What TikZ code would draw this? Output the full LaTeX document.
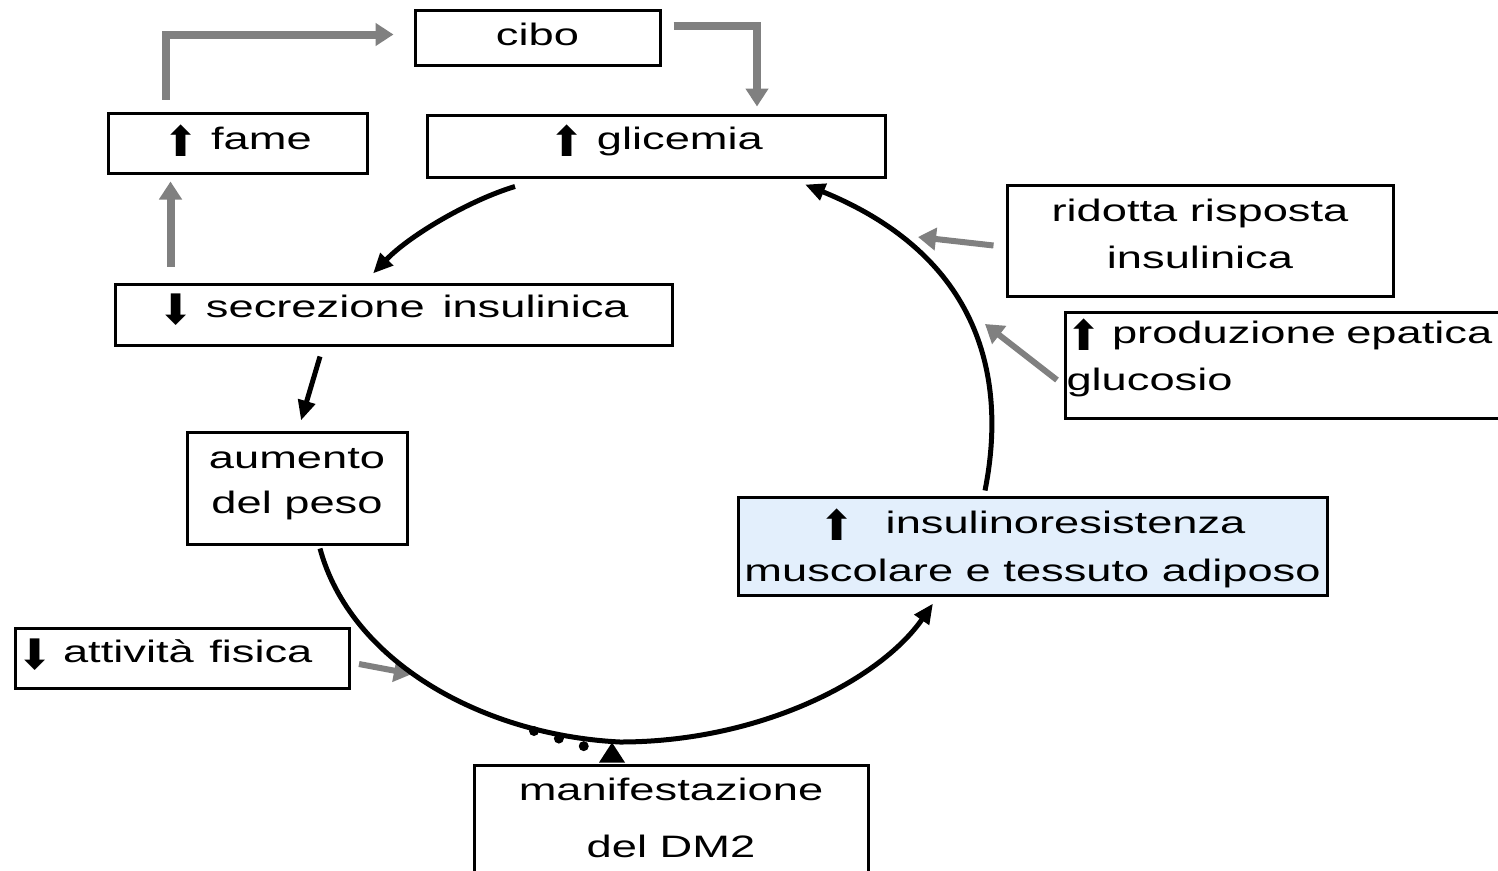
\documentclass[tikz,border=0pt]{standalone}
\usepackage{fontspec}
\setmainfont{Liberation Sans}[FakeStretch=1.46]
\newfontfamily\arrfont{DejaVu Sans}
\usetikzlibrary{arrows.meta}
\definecolor{gr}{HTML}{808080}
\definecolor{lb}{HTML}{E3EFFC}
\newcommand\myup{\raisebox{-7pt}{\fontsize{42}{42}\arrfont ⬆}}
\newcommand\mydown{\raisebox{-7pt}{\fontsize{42}{42}\arrfont ⬇}}
\begin{document}
\begin{tikzpicture}[x=1pt,y=-1pt,
  box/.style={draw=black, line width=3pt, inner sep=2pt, align=center,
    font=\fontsize{31}{47}\selectfont},
  garrow/.style={draw=gr, line width=8pt, -{Triangle[length=18pt,width=22pt]}},
  barrow/.style={draw=black, line width=5pt, -{Triangle[length=20pt,width=17pt]}},
]
\useasboundingbox (0,0) rectangle (1498,870);
\fill[white] (0,0) rectangle (1498,870);

\node[box, minimum width=245pt, minimum height=55pt, text height=22pt, text depth=6pt] (cibo) at (537.5,37.5) {cibo};
\node[box, minimum width=259pt, minimum height=60pt, text height=22pt, text depth=10pt] (fame) at (237.5,143) {\myup\ fame};
\node[box, minimum width=458pt, minimum height=62pt, text height=22pt, text depth=16pt] (gli) at (656,146) {\myup\ glicemia};
\node[box, minimum width=557pt, minimum height=61pt, text height=22pt, text depth=16pt] (sec) at (393.5,314.5) {\mydown\ secrezione\, insulinica};
\node[box, minimum width=220pt, minimum height=112pt, text height=70pt, text depth=20pt] (peso) at (297,488) {aumento\\[-2pt]del peso};
\node[box, minimum width=386pt, minimum height=111pt, text height=73pt, text depth=18pt] (rid) at (1200,240.5) {ridotta risposta\\insulinica};
\node[box, anchor=west, text width=450pt, align=left, minimum height=106pt, inner sep=1pt, text height=22pt, text depth=66pt] (prod) at (1064,365) {\myup\ produzione epatica\\glucosio};
\node[box, fill=lb, minimum width=589pt, minimum height=98pt, text height=82pt, text depth=12pt] (ins) at (1032.5,546) {\myup\quad insulinoresistenza\\[1pt]muscolare e tessuto adiposo};
\node[box, anchor=west, text width=330pt, align=left, minimum height=60pt, inner sep=2pt, text height=22pt, text depth=14pt] (att) at (14,658) {\mydown\ attività\, fisica};
\node[box, minimum width=394pt, minimum height=104pt, text height=90pt, text depth=14pt] (dm2) at (671,819) {manifestazione\\[10pt]del DM2};

% grey arrows
\draw[garrow] ([xshift=59pt,yshift=12pt]fame.north west) |- ([xshift=-20pt,yshift=3pt]cibo.west);
\draw[garrow] ([xshift=12pt,yshift=12pt]cibo.east) -| ([xshift=101pt,yshift=7pt]gli.north);
\draw[garrow] ([xshift=57pt,yshift=16pt]sec.north west) -- ([xshift=64pt,yshift=-7pt]fame.south west);

\coordinate (c1) at (918,237);
\coordinate (c2) at (985,324);
\coordinate (c3) at (412,674);
\draw[garrow, line width=6pt] ([xshift=-12pt,yshift=-5pt]rid.west) -- (c1);
\draw[garrow, line width=6pt] ([xshift=-7pt,yshift=-15pt]prod.west) -- (c2);
\draw[garrow, line width=6pt] ([xshift=8pt,yshift=-6pt]att.east) -- (c3);

% black cycle
\draw[barrow] ([xshift=-141pt,yshift=-8pt]gli.south) .. controls (470,200) and (410,235) .. ([xshift=-20.5pt,yshift=9pt]sec.north);
\draw[barrow] ([xshift=-73.5pt,yshift=-10pt]sec.south) -- ([xshift=4pt,yshift=10pt]peso.north);
\draw[barrow] ([xshift=23pt,yshift=-3pt]peso.south) .. controls (350,660) and (480,735) .. (620,742)
   .. controls (760,742) and (880,680) .. ([xshift=-99.5pt,yshift=-7pt]ins.south);
\draw[barrow] ([xshift=-47.5pt,yshift=5pt]ins.north) .. controls (1005,390) and (990,260) .. ([xshift=149pt,yshift=-6pt]gli.south);

% dotted connector to DM2
\coordinate (d1) at (534,731);
\draw[line width=10pt, line cap=round, dash pattern=on 0pt off 26pt] (d1) -- ([xshift=-86pt,yshift=17pt]dm2.north);
\fill ([xshift=-59pt,yshift=21pt]dm2.north) -- ([xshift=-72pt,yshift=1pt]dm2.north) -- ([xshift=-46pt,yshift=1pt]dm2.north) -- cycle;
\end{tikzpicture}
\end{document}
